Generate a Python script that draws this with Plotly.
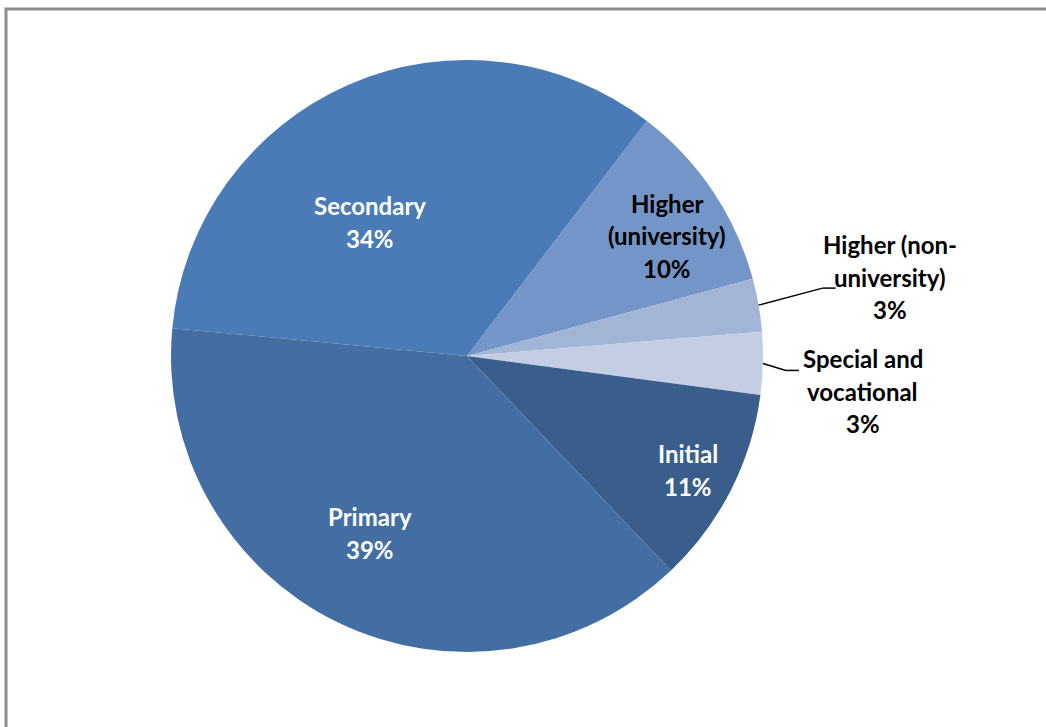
import math
import plotly.graph_objects as go

# Share of education expenditure by level (%)
levels = ["Secondary", "Higher (university)", "Higher (non-university)",
          "Special and vocational", "Initial", "Primary"]
label_lines = [["Secondary"], ["Higher", "(university)"], ["Higher (non-", "university)"],
               ["Special and", "vocational"], ["Initial"], ["Primary"]]
shares = [33.9, 10.4, 2.9, 3.4, 10.8, 38.6]
colors = ["#4a7bb6", "#7395c7", "#a2b5d7", "#c3cee4", "#3a5e8c", "#436ea3"]
text_colors = ["white", "black", "black", "black", "white", "white"]

start_angle = -84.6  # degrees clockwise from 12 o'clock

W, H = 1046, 727
CX, CY, R = 467, 356, 296  # pie centre and radius in pixels
dom_x = [(CX - R) / W, (CX + R) / W]
dom_y = [1 - (CY + R) / H, 1 - (CY - R) / H]

fig = go.Figure(go.Pie(
    labels=levels,
    values=shares,
    sort=False,
    direction="clockwise",
    rotation=start_angle,
    marker=dict(colors=colors, line=dict(width=0)),
    textinfo="none",
    showlegend=False,
    hoverinfo="label+percent",
    domain=dict(x=dom_x, y=dom_y),
))

FONT = "Lato"
FSIZE = 24
LINE_H = 32.5


def px(x, y):
    return x / W, 1 - y / H


def add_label(lines, cx, cy, color):
    n = len(lines)
    for k, line in enumerate(lines):
        yy = cy + (k - (n - 1) / 2) * LINE_H
        x, y = px(cx, yy)
        fig.add_annotation(xref="paper", yref="paper", x=x, y=y,
                           text=f"<b>{line}</b>", showarrow=False,
                           xanchor="center", yanchor="middle",
                           font=dict(family=FONT, size=FSIZE, color=color))


# Label placement: inside labels as (radius fraction, angle shift from slice middle);
# outside labels as leader-line bend offset and text offset from the slice edge.
inside_place = {0: (0.559, -12.3), 1: (0.789, 2.8), 4: (0.841, 0.3), 5: (0.682, 2.8)}
outside_place = {2: ((64, -17), (131, -28)), 3: ((23, 7), (100, 28))}

total = sum(shares)
cum = 0.0
for i, v in enumerate(shares):
    mid = start_angle + (cum + v / 2) / total * 360
    cum += v
    lines = label_lines[i] + [f"{v / total:.0%}"]
    if i in inside_place:
        rf, shift = inside_place[i]
        a = math.radians(mid + shift)
        add_label(lines, CX + rf * R * math.sin(a), CY - rf * R * math.cos(a), text_colors[i])
    else:
        a = math.radians(mid)
        ex, ey = CX + R * math.sin(a), CY - R * math.cos(a)
        (bx, by), (tx, ty) = outside_place[i]
        x0, y0 = px(ex, ey)
        x1, y1 = px(ex + bx, ey + by)
        x2, _ = px(ex + bx + 13, ey + by)
        fig.add_shape(type="line", xref="paper", yref="paper",
                      x0=x0, y0=y0, x1=x1, y1=y1, line=dict(color="black", width=1.5))
        fig.add_shape(type="line", xref="paper", yref="paper",
                      x0=x1, y0=y1, x1=x2, y1=y1, line=dict(color="black", width=1.5))
        add_label(lines, ex + tx, ey + ty, text_colors[i])

# Chart frame
fig.add_shape(type="rect", xref="paper", yref="paper",
              x0=6 / W, y0=1 - 9 / H, x1=1.01, y1=-0.01,
              line=dict(color="#8c8c8c", width=3))

fig.update_layout(
    width=W, height=H,
    margin=dict(l=0, r=0, t=0, b=0),
    paper_bgcolor="white",
    plot_bgcolor="white",
)

fig.write_html("out.html")
